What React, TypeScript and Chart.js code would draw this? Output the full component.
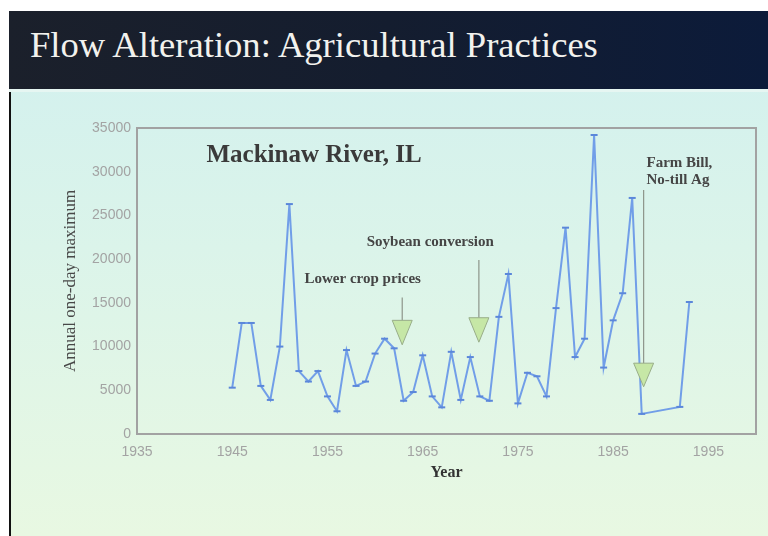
import React, { useEffect, useRef } from "react";
import { Chart, registerables } from "chart.js";

Chart.register(...registerables);

// ---- data ----
const years = [
  1945, 1946, 1947, 1948, 1949, 1950, 1951, 1952, 1953, 1954,
  1955, 1956, 1957, 1958, 1959, 1960, 1961, 1962, 1963, 1964,
  1965, 1966, 1967, 1968, 1969, 1970, 1971, 1972, 1973, 1974,
  1975, 1976, 1977, 1978, 1979, 1980, 1981, 1982, 1983, 1984,
  1985, 1986, 1987, 1988, 1992, 1993,
];
const annualMax = [
  5300, 12700, 12700, 5500, 3900, 10000, 26300, 7200, 6000, 7200,
  4300, 2600, 9600, 5500, 6000, 9200, 10900, 9800, 3800, 4800,
  9000, 4300, 3050, 9400, 3900, 8800, 4300, 3800, 13400, 18300,
  3500, 7000, 6600, 4300, 14400, 23600, 8800, 10900, 34200, 7600,
  13000, 16100, 27000, 2300, 3100, 15100,
];
const xTickYears = [1935, 1945, 1955, 1965, 1975, 1985, 1995];
const xTickLabels = ["1935", "1945", "1955", "1965", "1975", "1985", "1995"];
const yTickValues = [0, 5000, 10000, 15000, 20000, 25000, 30000, 35000];

const titleText = "Flow Alteration: Agricultural Practices";
const chartLabel = "Mackinaw River, IL";
const yAxisTitle = "Annual one-day maximum";
const xAxisTitle = "Year";

// annotations in data units (year, flow)
const noteTexts = ["Lower crop prices", "Soybean conversion", "Farm Bill,", "No-till Ag"];
const noteYears = [1958.7, 1965.8, 1988.5, 1988.5];
const noteFlows = [17700, 22000, 31000, 29050];
const noteAlign = ["center", "center", "left", "left"];
const arrowYears = [1962.85, 1970.9, 1988.2];
const arrowLineTop = [15600, 19900, 27900];
const arrowHeadTop = [13000, 13300, 8100];
const arrowTip = [10200, 10500, 5400];
const labelYear = 1942.3;
const labelFlow = 31900;

const annotationPlugin = {
  id: "slideAnnotations",
  beforeDatasetsDraw(chart: any) {
    const { ctx, chartArea } = chart;
    ctx.save();
    ctx.strokeStyle = "#a2a2a2";
    ctx.lineWidth = 2;
    ctx.strokeRect(chartArea.left, chartArea.top, chartArea.right - chartArea.left, chartArea.bottom - chartArea.top);
    ctx.restore();
  },
  afterDatasetsDraw(chart: any) {
    const { ctx } = chart;
    const xs = chart.scales.x;
    const ys = chart.scales.y;
    ctx.save();
    ctx.fillStyle = "#3a3a3a";
    ctx.font = "bold 25px 'Liberation Serif', serif";
    ctx.textAlign = "left";
    ctx.textBaseline = "middle";
    ctx.fillText(chartLabel, xs.getPixelForValue(labelYear), ys.getPixelForValue(labelFlow));
    ctx.font = "bold 15px 'Liberation Serif', serif";
    ctx.fillStyle = "#454545";
    noteTexts.forEach((t, i) => {
      ctx.textAlign = noteAlign[i];
      ctx.fillText(t, xs.getPixelForValue(noteYears[i]), ys.getPixelForValue(noteFlows[i]));
    });
    arrowYears.forEach((yr, i) => {
      const x = xs.getPixelForValue(yr);
      const yTop = ys.getPixelForValue(arrowLineTop[i]);
      const yHead = ys.getPixelForValue(arrowHeadTop[i]);
      const yTip = ys.getPixelForValue(arrowTip[i]);
      ctx.strokeStyle = "#8d958a";
      ctx.lineWidth = 1.2;
      ctx.beginPath();
      ctx.moveTo(x, yTop);
      ctx.lineTo(x, yHead);
      ctx.stroke();
      ctx.beginPath();
      ctx.moveTo(x - 10, yHead);
      ctx.lineTo(x + 10, yHead);
      ctx.lineTo(x, yTip);
      ctx.closePath();
      ctx.fillStyle = "#c6e7a6";
      ctx.fill();
      ctx.strokeStyle = "#98ad88";
      ctx.lineWidth = 1;
      ctx.stroke();
    });
    ctx.restore();
  },
};

export default function App() {
  const canvasRef = useRef<HTMLCanvasElement | null>(null);

  useEffect(() => {
    if (!canvasRef.current) return;
    const points = years.map((y, i) => ({ x: y, y: annualMax[i] }));
    const chart = new Chart(canvasRef.current, {
      type: "line",
      data: {
        datasets: [
          {
            data: points,
            borderColor: "#719ee8",
            backgroundColor: "#719ee8",
            borderWidth: 2,
            pointStyle: "line",
            pointRadius: 3.5,
            pointBorderWidth: 2,
            pointBorderColor: "#5b87da",
            tension: 0,
            fill: false,
          },
        ],
      },
      options: {
        responsive: false,
        animation: false,
        devicePixelRatio: 1,
        layout: { padding: { left: 50, top: 128, right: 12, bottom: 42 } },
        plugins: {
          legend: { display: false },
          tooltip: { enabled: false },
          title: { display: false },
        },
        scales: {
          x: {
            type: "linear",
            min: 1935,
            max: 2000,
            afterFit: (s: any) => {
              s.height = 60;
            },
            afterBuildTicks: (s: any) => {
              s.ticks = xTickYears.map((v) => ({ value: v }));
            },
            grid: { display: false, drawTicks: false },
            border: { display: false },
            ticks: {
              autoSkip: false,
              maxRotation: 0,
              padding: 10,
              color: "#a3a3a3",
              font: { family: "'Liberation Sans', sans-serif", size: 14 },
              callback: (_v: any, i: number) => xTickLabels[i],
            },
            title: {
              display: true,
              text: xAxisTitle,
              color: "#333",
              font: { family: "'Liberation Serif', serif", size: 16, weight: "bold" },
              padding: { top: 0, bottom: 12 },
            },
          },
          y: {
            type: "linear",
            min: 0,
            max: 35000,
            afterFit: (s: any) => {
              s.width = 87;
            },
            afterBuildTicks: (s: any) => {
              s.ticks = yTickValues.map((v) => ({ value: v }));
            },
            grid: { display: false, drawTicks: false },
            border: { display: false },
            ticks: {
              padding: 6,
              color: "#a3a3a3",
              font: { family: "'Liberation Sans', sans-serif", size: 14 },
              callback: (v: any) => String(v),
            },
            title: {
              display: true,
              text: yAxisTitle,
              color: "#484848",
              font: { family: "'Liberation Serif', serif", size: 17 },
              padding: { top: 10, bottom: 0 },
            },
          },
        },
      },
      plugins: [annotationPlugin],
    });
    return () => chart.destroy();
  }, []);

  return (
    <div
      style={{
        position: "absolute",
        left: 0,
        top: 0,
        width: 768,
        height: 536,
        background: "#ffffff",
        overflow: "hidden",
      }}
    >
      <div
        style={{
          position: "absolute",
          left: 9,
          top: 11,
          width: 759,
          height: 525,
          background: "linear-gradient(180deg, #d1f0ef 0%, #dbf4ea 45%, #e8f8e2 100%)",
          borderLeft: "2px solid #111",
          boxSizing: "border-box",
        }}
      />
      <div
        style={{
          position: "absolute",
          left: 9,
          top: 11,
          width: 759,
          height: 78,
          background: "linear-gradient(90deg, #1b202b 0%, #141d2f 50%, #0c1b3a 100%)",
          borderBottom: "3px solid #e6f6f2",
        }}
      />
      <div
        style={{
          position: "absolute",
          left: 30,
          top: 27,
          fontFamily: "'Liberation Serif', serif",
          fontSize: 36.6,
          lineHeight: "36px",
          color: "#f2f2ee",
          whiteSpace: "nowrap",
        }}
      >
        {titleText}
      </div>
      <canvas
        ref={canvasRef}
        width={768}
        height={536}
        style={{ position: "absolute", left: 0, top: 0, width: 768, height: 536 }}
      />
    </div>
  );
}
